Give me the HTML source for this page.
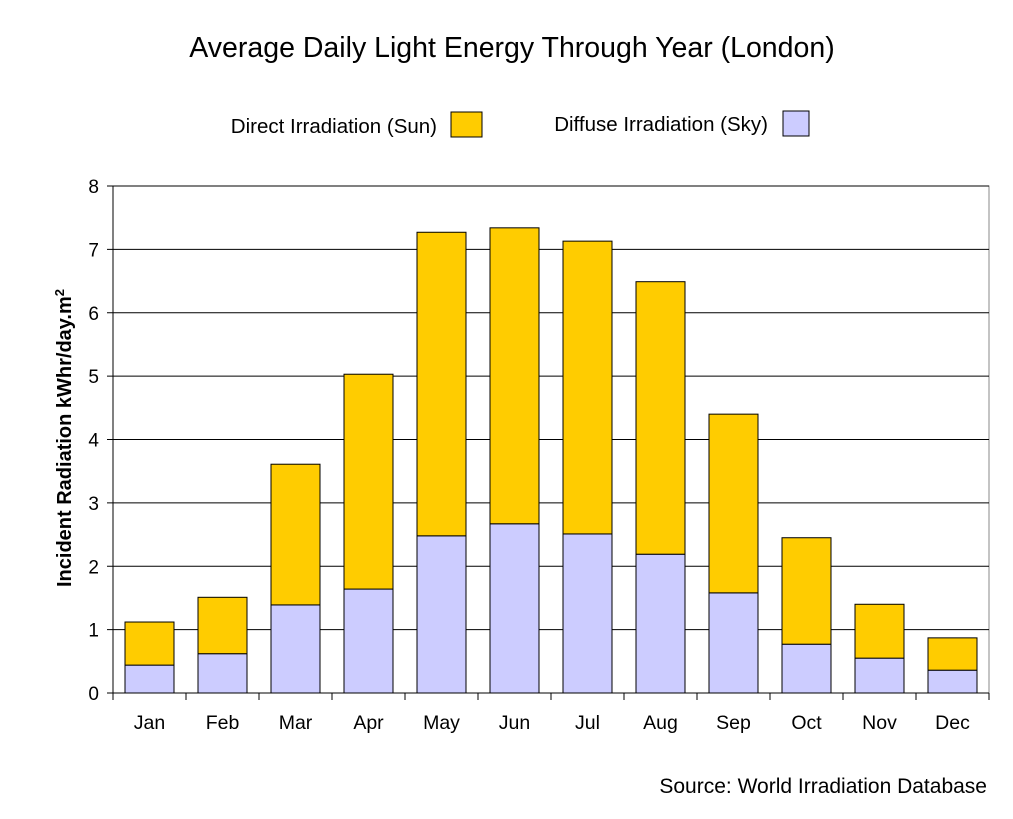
<!DOCTYPE html>
<html><head><meta charset="utf-8"><style>
body{margin:0;background:#fff;}
svg{display:block;font-family:"Liberation Sans",sans-serif;}
</style></head><body>
<svg id="chart" width="1013" height="819">
<text x="512" y="57" text-anchor="middle" font-size="28.5">Average Daily Light Energy Through Year (London)</text>
<g>
<text x="437" y="133" text-anchor="end" font-size="20.5">Direct Irradiation (Sun)</text>
<rect x="451" y="112" width="31" height="25" fill="#ffcc00" stroke="#000"/>
<text x="768" y="131" text-anchor="end" font-size="20.5">Diffuse Irradiation (Sky)</text>
<rect x="783" y="111" width="26" height="25" fill="#ccccff" stroke="#000"/>
</g>
<text transform="translate(71,438) rotate(-90)" text-anchor="middle" font-size="20" font-weight="bold">Incident Radiation kWhr/day.m<tspan dy="-7" font-size="13">2</tspan></text>
<text x="987" y="793" text-anchor="end" font-size="21">Source: World Irradiation Database</text>
<g id="plot"></g>
</svg>
<script>
const categories=["Jan","Feb","Mar","Apr","May","Jun","Jul","Aug","Sep","Oct","Nov","Dec"];
const diffuse=[0.44,0.62,1.39,1.64,2.48,2.67,2.51,2.19,1.58,0.77,0.55,0.36];
const direct=[0.68,0.89,2.22,3.39,4.79,4.67,4.62,4.30,2.82,1.68,0.85,0.51];
const yTicks=[0,1,2,3,4,5,6,7,8];
const X0=113,X1=989,Y0=693,Y1=186,YMAX=8;
const NS="http://www.w3.org/2000/svg";
const g=document.getElementById('plot');
const y=v=>Y0-(v/YMAX)*(Y0-Y1);
const bw=(X1-X0)/categories.length;
const x=i=>X0+i*bw;
function mk(t,a){const e=document.createElementNS(NS,t);for(const k in a)e.setAttribute(k,a[k]);g.appendChild(e);return e;}
const border=mk('rect',{x:X0,y:Y1,width:X1-X0,height:Y0-Y1,fill:'none',stroke:'#888'});


yTicks.forEach(t=>{
 const l=mk('line',{x1:X0-6,x2:X1,y1:y(t),y2:y(t),stroke:'#000','stroke-width':1});
 
 
 const tx=mk('text',{x:X0-14,y:y(t)+7,'text-anchor':'end','font-size':19});
 tx.textContent=t;
 
 
});
const ax=mk('line',{x1:X0,x2:X0,y1:Y1,y2:Y0,stroke:'#000'});


for(let i=0;i<=categories.length;i++){
 const t=mk('line',{x1:x(i),x2:x(i),y1:Y0,y2:Y0+7,stroke:'#000'});
 
 
}
categories.forEach((c,i)=>{
 const bx=x(i)+12,w=bw-24;
 const d=mk('rect',{x:bx,y:y(diffuse[i]),width:w,height:Y0-y(diffuse[i]),fill:'#ccccff',stroke:'#000'});
 
 
 const tot=diffuse[i]+direct[i];
 const s=mk('rect',{x:bx,y:y(tot),width:w,height:y(diffuse[i])-y(tot),fill:'#ffcc00',stroke:'#000'});
 
 
 const tx=mk('text',{x:x(i)+bw/2,y:729,'text-anchor':'middle','font-size':19.5});
 tx.textContent=c;
 
 
});
</script>
</body></html>
